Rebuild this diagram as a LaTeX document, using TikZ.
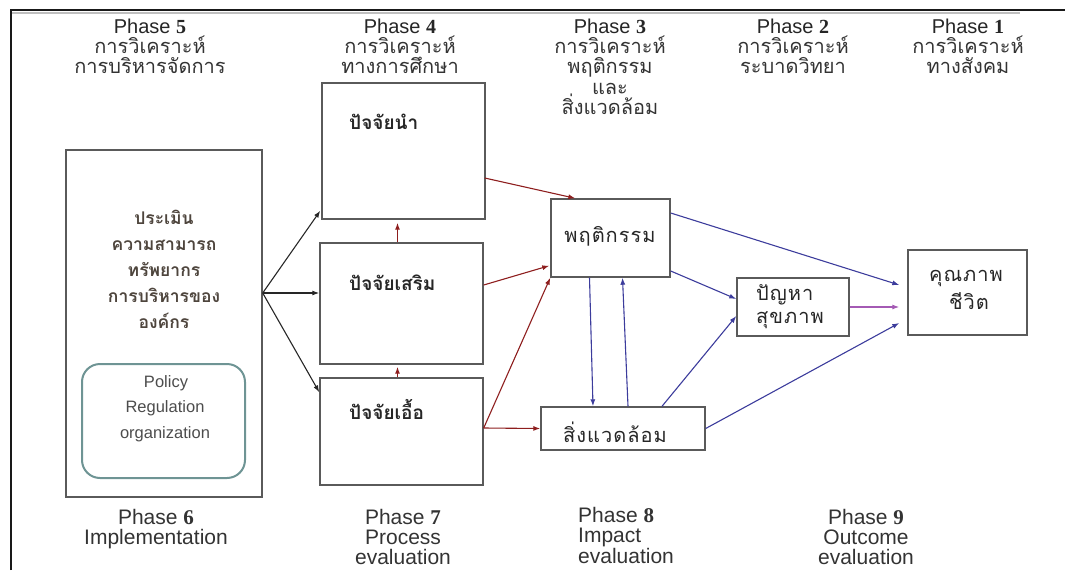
\documentclass[tikz,border=0pt]{standalone}
\usepackage{fontspec}
\setmainfont{Liberation Sans}
\newfontfamily\thai[Script=Thai]{Loma}
\newfontfamily\thaisp[Script=Thai,LetterSpace=5]{Loma}
\newfontfamily\numserif{Liberation Serif}
\usetikzlibrary{arrows.meta,positioning}
\definecolor{arrred}{HTML}{8E1E1E}
\definecolor{arrblue}{HTML}{3C3C9C}
\definecolor{arrpurple}{HTML}{A45AB4}
\definecolor{boxgray}{HTML}{5A5A5A}
\definecolor{tealgray}{HTML}{6E9494}
\definecolor{lefttxt}{HTML}{4E453D}
\newcommand{\ph}[1]{Phase {\numserif\bfseries #1}}
\tikzset{
  box/.style={draw=boxgray, line width=1.4pt, minimum width=#1, inner sep=0pt},
  boxlabel/.style={font=\thai\bfseries\fontsize{19}{20}\selectfont, text=black!85, inner sep=0pt},
  reglabel/.style={font=\thaisp\fontsize{20}{22}\selectfont, text=black!85, inner sep=0pt},
  hdr/.style={font=\fontsize{20}{20}\selectfont, text=black!85, inner sep=0pt, anchor=base},
  hdrthai/.style={font=\thai\fontsize{20}{20}\selectfont, text=black!80, inner sep=0pt, anchor=base},
  ftr/.style={font=\fontsize{21}{20}\selectfont, text=black!80, inner sep=0pt, anchor=base},
  leftthai/.style={font=\thai\bfseries\fontsize{17.5}{18}\selectfont, text=lefttxt, inner sep=0pt, anchor=base},
  poltxt/.style={font=\fontsize{16.5}{18}\selectfont, text=black!70, inner sep=0pt, anchor=base},
  blk/.style={-{Latex[length=7pt,width=5pt]}, line width=1.1pt, black!85},
  red/.style={-{Latex[length=7pt,width=5pt]}, line width=1.1pt, arrred},
  blu/.style={-{Latex[length=7pt,width=5pt]}, line width=1.1pt, arrblue},
  pur/.style={-{Latex[length=7pt,width=5pt]}, line width=1.1pt, arrpurple},
}
\begin{document}
\begin{tikzpicture}[x=1pt,y=-1pt]
\useasboundingbox (0,0) rectangle (1065,570);
% frame
\coordinate (frTL) at (11,10);
\coordinate (frTR) at (1065,10);
\coordinate (frBL) at (11,570);
\coordinate (frSh) at (1020,13);
\draw[black!25, line width=1.5pt] ([yshift=-3]frTL) -- (frSh);
\draw[black!90, line width=1.8pt] (frBL) -- (frTL) -- (frTR);

% headers
\node[hdr] (h5a) at (150,33) {\ph{5}};
\node[hdrthai] (h5b) at (150,53) {การวิเคราะห์};
\node[hdrthai] (h5c) at (150,73) {การบริหารจัดการ};
\node[hdr] (h4a) at (400,33) {\ph{4}};
\node[hdrthai] (h4b) at (400,53) {การวิเคราะห์};
\node[hdrthai] (h4c) at (400,73) {ทางการศึกษา};
\node[hdr] (h3a) at (610,33) {\ph{3}};
\node[hdrthai] (h3b) at (610,53) {การวิเคราะห์};
\node[hdrthai] (h3c) at (610,73) {พฤติกรรม};
\node[hdrthai] (h3d) at (610,94) {และ};
\node[hdrthai] (h3e) at (610,114) {สิ่งแวดล้อม};
\node[hdr] (h2a) at (793,33) {\ph{2}};
\node[hdrthai] (h2b) at (793,53) {การวิเคราะห์};
\node[hdrthai] (h2c) at (793,73) {ระบาดวิทยา};
\node[hdr] (h1a) at (968,33) {\ph{1}};
\node[hdrthai] (h1b) at (968,53) {การวิเคราะห์};
\node[hdrthai] (h1c) at (968,73) {ทางสังคม};

% left box
\node[box=196pt, minimum height=347pt] (L) at (164,323.5) {};
\node[leftthai] (l1) at (164,224) {ประเมิน};
\node[leftthai] (l2) at (164,250) {ความสามารถ};
\node[leftthai] (l3) at (164,276) {ทรัพยากร};
\node[leftthai] (l4) at (164,302) {การบริหารของ};
\node[leftthai] (l5) at (164,328) {องค์กร};
\node[draw=tealgray, line width=2pt, rounded corners=18pt, minimum width=163pt, minimum height=114pt, inner sep=0pt] (pol) at (163.5,421) {};
\node[poltxt] (p1) at (166,387) {Policy};
\node[poltxt] (p2) at (165,412) {Regulation};
\node[poltxt] (p3) at (165,438) {organization};

% factor boxes
\node[box=163pt, minimum height=136pt] (t1) at (403.5,151) {};
\node[box=163pt, minimum height=121pt] (t2) at (401.5,303.5) {};
\node[box=163pt, minimum height=107pt] (t3) at (401.5,431.5) {};
\node[boxlabel, anchor=west] (t1l) at (349,122) {ปัจจัยนำ};
\node[boxlabel, anchor=west] (t2l) at (349,283) {ปัจจัยเสริม};
\node[boxlabel, anchor=west] (t3l) at (349,409) {ปัจจัยเอื้อ};

% behaviour / environment
\node[box=119pt, minimum height=78pt] (b) at (610.5,238) {};
\node[reglabel] (bl) at (610,236) {พฤติกรรม};
\node[box=164pt, minimum height=43pt] (env) at (623,428.5) {};
\node[reglabel] (envl) at (615,432) {สิ่งแวดล้อม};

% health / quality of life
\node[box=112pt, minimum height=58pt] (h) at (793,307) {};
\node[reglabel, anchor=west] (hl1) at (756,295) {ปัญหา};
\node[reglabel, anchor=west] (hl2) at (756,320) {สุขภาพ};
\node[box=119pt, minimum height=85pt] (q) at (967.5,292.5) {};
\node[reglabel] (ql1) at (966,278) {คุณภาพ};
\node[reglabel] (ql2) at (969,301) {ชีวิต};

% footers
\node[ftr] (f6a) at (156,524) {\ph{6}};
\node[ftr] (f6b) at (156,544) {Implementation};
\node[ftr] (f7a) at (403,524) {\ph{7}};
\node[ftr] (f7b) at (403,544) {Process};
\node[ftr] (f7c) at (403,564) {evaluation};
\node[ftr, anchor=base west] (f8a) at (578,522) {\ph{8}};
\node[ftr, anchor=base west] (f8b) at (578,542) {Impact};
\node[ftr, anchor=base west] (f8c) at (578,563) {evaluation};
\node[ftr] (f9a) at (866,524) {\ph{9}};
\node[ftr] (f9b) at (866,544) {Outcome};
\node[ftr] (f9c) at (866,564) {evaluation};

% black fork arrows
\coordinate (fork) at ([yshift=30.5pt]L.east);
\draw[blk] (fork) -- ([yshift=9pt,xshift=-1pt]t1.south west);
\draw[blk] (fork) -- ([yshift=10.5pt]t2.west);
\draw[blk] (fork) -- ([yshift=-15pt]t3.north west);

% red arrows
\draw[red] ([xshift=-4pt]t2.north) -- ([xshift=-4pt,yshift=-3pt]t2.north |- t1.south);
\draw[red] ([xshift=-4pt]t3.north) -- ([xshift=-4pt,yshift=-2pt]t3.north |- t2.south);
\draw[red] ([yshift=-27pt,xshift=-1pt]t1.east) -- ([xshift=25pt]b.north west);
\draw[red] ([yshift=18.5pt]t2.east) -- ([yshift=12pt,xshift=-1pt]b.south west);
\draw[red] ([yshift=3.5pt]t3.east) -- (b.south west);
\draw[red] ([yshift=3.5pt]t3.east) -- (env.west);

% blue arrows
\draw[blu] ([xshift=-21pt]b.south) -- ([xshift=-30pt]env.north);
\draw[blu] ([xshift=5pt]env.north) -- ([xshift=12pt]b.south);
\draw[blu] ([yshift=25pt]b.east) -- ([xshift=-8pt,yshift=7.5pt]q.west);
\draw[blu] ([yshift=-33pt]b.east) -- ([yshift=8pt]h.west);
\draw[blu] ([xshift=39pt]env.north) -- ([yshift=-9pt]h.west);
\draw[blu] (env.east) -- ([xshift=-8pt,yshift=-30.5pt]q.west);
\draw[pur] (h.east) -- ([xshift=-8pt]q.west |- h.east);
\end{tikzpicture}
\end{document}
